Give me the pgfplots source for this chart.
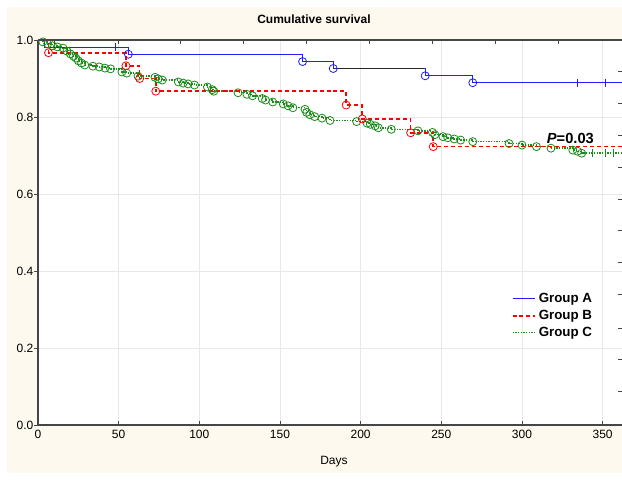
\documentclass[border=0pt]{standalone}
\usepackage{fontspec}
\setmainfont{Liberation Sans}
\usepackage{pgfplots}
\pgfplotsset{compat=1.18}
\definecolor{cream}{RGB}{254,249,238}
\definecolor{axgray}{RGB}{70,70,70}
\definecolor{gridgray}{RGB}{232,232,232}
\definecolor{cA}{RGB}{30,30,255}
\definecolor{cB}{RGB}{255,0,0}
\definecolor{cC}{RGB}{25,140,25}
\begin{document}
\begin{tikzpicture}
\fill[cream] (-23.25pt,-36pt) rectangle (438pt,313.5pt);
\begin{axis}[
  at={(0pt,0pt)}, anchor=south west,
  scale only axis, width=438pt, height=288.75pt,
  xmin=0, xmax=362, ymin=0, ymax=1,
  axis x line*=bottom, axis y line*=left,
  axis line style={-, axgray, line width=1pt},
  axis background/.style={fill=white},
  xtick={0,50,...,350}, ytick={0,0.2,...,1.0},
  tick align=inside,
  major tick length=3pt,
  tick style={axgray, line width=0.7pt},
  ytick style={xshift=-3pt},
  grid=major, major grid style={gridgray, line width=0.5pt},
  ticklabel style={font=\small},
  /pgf/number format/assume math mode=true,
  yticklabel style={/pgf/number format/.cd, fixed, fixed zerofill, precision=1},
  legend style={draw=none, fill=none, at={(axis cs:291,0.357)}, anchor=north west,
    font=\bfseries\fontsize{10}{11}\selectfont, row sep=0.2pt},
  legend cell align=left,
]
\addlegendimage{cA, line width=1pt}
\addlegendentry{Group A}
\addlegendimage{draw=cB, line width=1.2pt, dash pattern=on 3pt off 2.2pt}
\addlegendentry{Group B}
\addlegendimage{draw=cC, line width=1.1pt, dash pattern=on 1pt off 1pt}
\addlegendentry{Group C}

% Group C
\addplot[draw=cC, line width=1.1pt, dash pattern=on 1pt off 1pt, const plot, forget plot] coordinates {
(0,1.0) (3,0.995) (6,0.990) (9,0.985) (12,0.982) (15.5,0.979) (18,0.971) (20,0.964)
(22,0.958) (23.5,0.953) (25,0.946) (27,0.940) (29,0.935) (34,0.932) (38,0.930)
(41.5,0.927) (45,0.925) (52,0.917) (55,0.914) (62,0.906) (72.5,0.903) (74.5,0.899)
(77,0.896) (87,0.891) (90,0.888) (93,0.886) (97,0.883) (105,0.878) (108,0.871)
(109,0.867) (124,0.863) (129.5,0.859) (133,0.855) (139,0.848) (141,0.844)
(145.5,0.839) (152,0.834) (155,0.829) (158,0.824) (165.5,0.820) (166.5,0.812)
(168.5,0.806) (171.5,0.801) (176,0.797) (181,0.791) (197.5,0.788) (204,0.784)
(206,0.781) (209,0.777) (211,0.772) (219,0.768) (235.5,0.764) (244.5,0.760)
(246,0.754) (251,0.749) (254,0.746) (258,0.743) (262,0.740) (269.5,0.736)
(292,0.731) (300,0.727) (309,0.723) (318,0.719) (331.5,0.714) (334.5,0.711)
(337,0.706) (362,0.706)};
\addplot[cC, only marks, mark=o, mark size=3pt, mark options={solid, line width=0.6pt}, forget plot] coordinates {
(3,0.995) (6,0.990) (9,0.985) (12,0.982) (15.5,0.979) (18,0.971) (20,0.964)
(22,0.958) (23.5,0.953) (25,0.946) (27,0.940) (29,0.935) (34,0.932) (38,0.930)
(41.5,0.927) (45,0.925) (52,0.917) (55,0.914) (62,0.906) (72.5,0.903) (74.5,0.899)
(77,0.896) (87,0.891) (90,0.888) (93,0.886) (97,0.883) (105,0.878) (108,0.871)
(109,0.867) (124,0.863) (129.5,0.859) (133,0.855) (139,0.848) (141,0.844)
(145.5,0.839) (152,0.834) (155,0.829) (158,0.824) (165.5,0.820) (166.5,0.812)
(168.5,0.806) (171.5,0.801) (176,0.797) (181,0.791) (197.5,0.788) (204,0.784)
(206,0.781) (209,0.777) (211,0.772) (219,0.768) (235.5,0.764) (244.5,0.760)
(246,0.754) (251,0.749) (254,0.746) (258,0.743) (262,0.740) (269.5,0.736)
(292,0.731) (300,0.727) (309,0.723) (318,0.719) (331.5,0.714) (334.5,0.711)
(337,0.706)};
\addplot[cC, only marks, mark=|, mark size=3pt, mark options={solid, line width=0.7pt}, forget plot] coordinates {
(344,0.706) (351.5,0.706) (356.5,0.706)};

% Group B
\addplot[draw=cB, line width=1.2pt, dash pattern=on 3pt off 2.2pt, const plot, forget plot] coordinates {
(0,1.0) (6.5,0.967) (54.5,0.933) (63,0.900) (73,0.867) (191,0.831) (201,0.795)
(231,0.759) (245,0.723) (362,0.723)};
\addplot[cB, only marks, mark=o, mark size=3pt, mark options={solid, line width=0.6pt}, forget plot] coordinates {
(6.5,0.967) (54.5,0.933) (63,0.900) (73,0.867) (191,0.831) (201,0.795)
(231,0.759) (245,0.723)};

% Group A
\addplot[draw=cA, line width=1pt, const plot, forget plot] coordinates {
(0,1.0) (4,0.981) (56,0.963) (164,0.944) (183,0.926) (240,0.907) (269.5,0.889) (362,0.889)};
\addplot[black!85, line width=0.8pt, forget plot] coordinates {(184,0.926) (239.5,0.926)};
\addplot[cA, only marks, mark=o, mark size=3pt, mark options={solid, line width=0.6pt}, forget plot] coordinates {
(56,0.963) (164,0.944) (183,0.926) (240,0.907) (269.5,0.889)};
\addplot[cA, only marks, mark=|, mark size=3pt, mark options={solid, line width=0.7pt}, forget plot] coordinates {
(48,0.981) (334.5,0.889) (352,0.889)};

\node[font=\bfseries\fontsize{11}{13}\selectfont, anchor=base] at (axis cs:330,0.730) {\textit{P}=0.03};
\end{axis}
% secondary tick marks (top and right)
\begin{axis}[
  at={(0pt,0pt)}, anchor=south west,
  scale only axis, width=438pt, height=288.75pt,
  xmin=0, xmax=362, ymin=0, ymax=1,
  axis x line*=top, axis y line*=right,
  x axis line style={-, axgray, line width=1pt},
  y axis line style={draw=none},
  xtick={10.5,49.6,88.6,127.6,166.7,205.7,244.7,283.8,322.8},
  ytick={0.086,0.169,0.252,0.338,0.421,0.504,0.587,0.670,0.753,0.834,0.917},
  xticklabels={}, yticklabels={},
  tick align=inside, major tick length=3pt,
  tick style={axgray, line width=0.7pt},
]
\end{axis}
\node[font=\bfseries\small] at (207pt,304pt) {Cumulative survival};
\node[font=\small] at (222pt,-27.5pt) {Days};
\pgfresetboundingbox
\path[use as bounding box] (-28.5pt,-51.75pt) rectangle (438pt,318.75pt);
\end{tikzpicture}
\end{document}
